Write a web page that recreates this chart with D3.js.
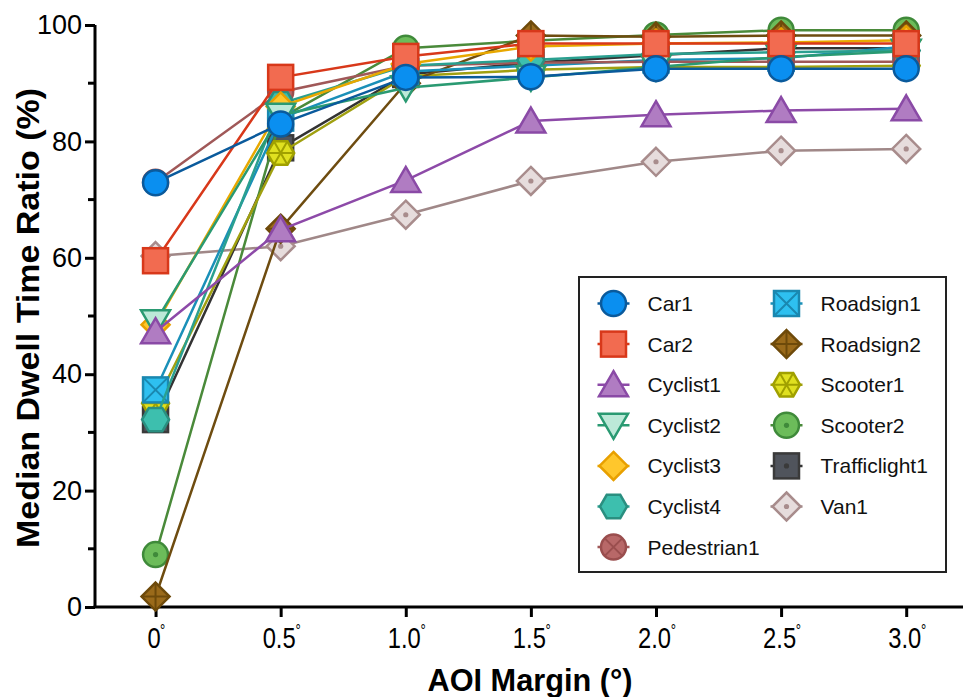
<!DOCTYPE html>
<html>
<head>
<meta charset="utf-8">
<script src="https://cdn.jsdelivr.net/npm/d3@7"></script>
<style>
  html, body { margin: 0; padding: 0; background: #fff; }
  svg { display: block; font-family: "Liberation Sans", Arial, sans-serif; }
</style>
</head>
<body>
<svg id="chart" width="963" height="697"></svg>
<script>
// ---- data ----
const xValues = [0, 0.5, 1.0, 1.5, 2.0, 2.5, 3.0];
const xTickLabels = ["0", "0.5", "1.0", "1.5", "2.0", "2.5", "3.0"];
const yTickValues = [0, 20, 40, 60, 80, 100];
const yMinorTicks = [10, 30, 50, 70, 90];

const seriesNames = ["Car1", "Car2", "Cyclist1", "Cyclist2", "Cyclist3", "Cyclist4", "Pedestrian1",
  "Roadsign1", "Roadsign2", "Scooter1", "Scooter2", "Trafficlight1", "Van1"];

const car1 = [72.9, 83.0, 91.0, 91.1, 92.5, 92.5, 92.5];
const car2 = [59.5, 91.0, 94.6, 96.8, 96.8, 96.8, 96.8];
const cyclist1 = [47.3, 64.8, 73.3, 83.5, 84.6, 85.3, 85.6];
const cyclist2 = [49.0, 84.5, 89.2, 91.0, 92.8, 94.5, 95.5];
const cyclist3 = [48.5, 86.0, 93.3, 96.3, 96.8, 97.0, 97.4];
const cyclist4 = [32.2, 86.5, 93.0, 94.0, 95.0, 95.3, 95.6];
const pedestrian1 = [73.0, 88.5, 93.0, 93.5, 93.7, 93.7, 93.7];
const roadsign1 = [37.3, 84.0, 92.0, 93.0, 94.0, 94.3, 96.3];
const roadsign2 = [1.8, 65.0, 90.0, 98.2, 98.0, 98.2, 98.2];
const scooter1 = [35.0, 78.0, 91.2, 92.3, 92.8, 92.8, 93.0];
const scooter2 = [9.0, 84.0, 96.0, 97.3, 98.3, 99.1, 99.1];
const trafficlight1 = [32.2, 78.9, 91.5, 93.5, 94.8, 96.0, 96.0];
const van1 = [60.3, 62.0, 67.4, 73.2, 76.5, 78.4, 78.7];

const seriesValues = [car1, car2, cyclist1, cyclist2, cyclist3, cyclist4, pedestrian1,
  roadsign1, roadsign2, scooter1, scooter2, trafficlight1, van1];

// ---- styles ----
const styles = [
  {shape: "circle",   fill: "#0a8ff0", stroke: "#0a5a9c", line: "#0a5a9c"},
  {shape: "square",   fill: "#f26b50", stroke: "#d8381a", line: "#d8381a"},
  {shape: "triUp",    fill: "#b07cc2", stroke: "#8a4aa6", line: "#8d4aa8"},
  {shape: "triDown",  fill: "#bce9d8", stroke: "#2a9a72", line: "#2a9a72"},
  {shape: "diamond",  fill: "#ffc72c", stroke: "#e8a000", line: "#e8a800"},
  {shape: "hexagon",  fill: "#3dbfae", stroke: "#2a8f80", line: "#2aa090"},
  {shape: "circleX",  fill: "#b86868", stroke: "#9a4e4e", line: "#a05858"},
  {shape: "squareX",  fill: "#2ec0f0", stroke: "#1a88b0", line: "#1a90b8"},
  {shape: "diamondPlus", fill: "#9a6a1a", stroke: "#6e4a0a", line: "#6e4c10"},
  {shape: "hexStar",  fill: "#e0e020", stroke: "#a0a000", line: "#a0a010"},
  {shape: "circleDot", fill: "#6cbc5a", stroke: "#3f8a3a", line: "#4a8a3a"},
  {shape: "squareDot", fill: "#50545c", stroke: "#3a3a3a", line: "#333333"},
  {shape: "diamondDot", fill: "#e6dcdc", stroke: "#a88c8c", line: "#a08888"}
];

const series = seriesNames.map((name, i) => ({name, values: seriesValues[i], ...styles[i]}));

// ---- scales ----
const svg = d3.select("#chart");
const x = d3.scaleLinear().domain([-0.242, 3.227]).range([95, 963]);
const y = d3.scaleLinear().domain([0, 100]).range([607, 25]);

// ---- symbol drawing ----
function drawSymbol(g, shape, fill, stroke) {
  const sw = 2.5;
  const add = (tag) => g.append(tag).attr("fill", fill).attr("stroke", stroke).attr("stroke-width", sw);
  const dec = (d) => g.append("path").attr("d", d).attr("fill", "none").attr("stroke", stroke).attr("stroke-width", 2);
  const dot = () => g.append("circle").attr("r", 2.6).attr("fill", stroke);
  const r = 12.5;
  if (shape.startsWith("circle")) {
    add("circle").attr("r", r);
    if (shape === "circleX") { const k = r * 0.7; dec(`M${-k},${-k}L${k},${k}M${-k},${k}L${k},${-k}`); }
    if (shape === "circleDot") dot();
  } else if (shape.startsWith("square")) {
    add("rect").attr("x", -r).attr("y", -r).attr("width", 2 * r).attr("height", 2 * r);
    if (shape === "squareX") dec(`M${-r},${-r}L${r},${r}M${-r},${r}L${r},${-r}`);
    if (shape === "squareDot") dot();
  } else if (shape === "triUp") {
    add("path").attr("d", "M0,-13.5L14.5,11.5L-14.5,11.5Z");
  } else if (shape === "triDown") {
    add("path").attr("d", "M0,13.5L14.5,-11.5L-14.5,-11.5Z");
  } else if (shape.startsWith("diamond")) {
    const d = 14;
    add("path").attr("d", `M0,${-d}L${d},0L0,${d}L${-d},0Z`);
    if (shape === "diamondPlus") dec(`M0,${-d}L0,${d}M${-d},0L${d},0`);
    if (shape === "diamondDot") dot();
  } else if (shape.startsWith("hex")) {
    const R = 13.5, h = R * Math.sqrt(3) / 2;
    const pts = [[R, 0], [R / 2, h], [-R / 2, h], [-R, 0], [-R / 2, -h], [R / 2, -h]];
    add("path").attr("d", "M" + pts.map(p => p.join(",")).join("L") + "Z");
    if (shape === "hexStar") dec(`M${-R},0L${R},0M${-R / 2},${-h}L${R / 2},${h}M${-R / 2},${h}L${R / 2},${-h}`);
  }
}

// ---- axes ----
const yAxis = d3.axisLeft(y).tickValues(yTickValues).tickSize(10).tickPadding(4).tickFormat(d3.format("d"));
const gy = svg.append("g").attr("transform", "translate(95,0)").call(yAxis);
gy.select(".domain").attr("stroke", "#000").attr("stroke-width", 3).attr("d", `M0,${y(100)}V${y(0)}`);
gy.selectAll(".tick line").attr("stroke", "#000").attr("stroke-width", 3);
gy.selectAll(".tick text").attr("font-size", 27).attr("fill", "#000")
  .attr("font-family", "'Liberation Sans', Arial, sans-serif").attr("x", -13);
gy.selectAll(".minor").data(yMinorTicks).enter().append("line")
  .attr("x1", -7).attr("x2", 0).attr("y1", d => y(d)).attr("y2", d => y(d))
  .attr("stroke", "#000").attr("stroke-width", 3);

const xAxis = d3.axisBottom(x).tickValues(xValues).tickSize(10).tickFormat(() => "");
const gx = svg.append("g").attr("transform", "translate(0,607)").call(xAxis);
gx.select(".domain").attr("stroke", "#000").attr("stroke-width", 3).attr("d", `M${x.range()[0] - 1.5},0H${x.range()[1]}`);
gx.selectAll(".tick line").attr("stroke", "#000").attr("stroke-width", 3);
gx.selectAll(".tick").each(function (d, i) {
  const t = d3.select(this).append("g").attr("transform", "translate(-2,41) scale(0.82,1)");
  t.append("text").attr("text-anchor", "middle").attr("font-size", 29).attr("fill", "#000").text(xTickLabels[i]);
  const w = xTickLabels[i].length === 1 ? 10.5 : 23;
  t.append("text").attr("x", w).attr("y", -12).attr("font-size", 16).attr("fill", "#000").text("°");
});

// axis titles
svg.append("text").attr("transform", "translate(39,318) rotate(-90)")
  .attr("text-anchor", "middle").attr("font-weight", "bold").attr("font-size", 31)
  .attr("textLength", 460).attr("lengthAdjust", "spacingAndGlyphs")
  .text("Median Dwell Time  Ratio (%)");
svg.append("text").attr("x", 530).attr("y", 691)
  .attr("text-anchor", "middle").attr("font-weight", "bold").attr("font-size", 32)
  .attr("textLength", 205).attr("lengthAdjust", "spacingAndGlyphs")
  .text("AOI Margin (°)");

// ---- series (drawn last-to-first so Car1 sits on top) ----
const line = d3.line().x((d, i) => x(xValues[i])).y(d => y(d));
const plot = svg.append("g");
series.slice().reverse().forEach(s => {
  const g = plot.append("g");
  g.append("path").attr("d", line(s.values)).attr("fill", "none")
    .attr("stroke", s.line).attr("stroke-width", 2.5);
  s.values.forEach((v, i) => {
    const m = g.append("g").attr("transform", `translate(${x(xValues[i])},${y(v)})`);
    drawSymbol(m, s.shape, s.fill, s.stroke);
  });
});

// ---- legend ----
const lg = svg.append("g");
lg.append("rect").attr("x", 579).attr("y", 277).attr("width", 367).attr("height", 295)
  .attr("fill", "#fff").attr("stroke", "#222").attr("stroke-width", 2);
const rowY0 = 303.5, rowStep = 40.6;
series.forEach((s, i) => {
  const col = i < 7 ? 0 : 1;
  const row = i < 7 ? i : i - 7;
  const cx = col === 0 ? 613.5 : 786.5;
  const cy = rowY0 + row * rowStep;
  const g = lg.append("g").attr("transform", `translate(${cx},${cy})`);
  g.append("line").attr("x1", -16).attr("x2", 16).attr("stroke", s.line).attr("stroke-width", 2.5);
  drawSymbol(g, s.shape, s.fill, s.stroke);
  lg.append("text").attr("x", cx + 34).attr("y", cy).attr("dy", "0.36em")
    .attr("font-size", 21).attr("fill", "#111").text(s.name);
});
</script>
</body>
</html>
